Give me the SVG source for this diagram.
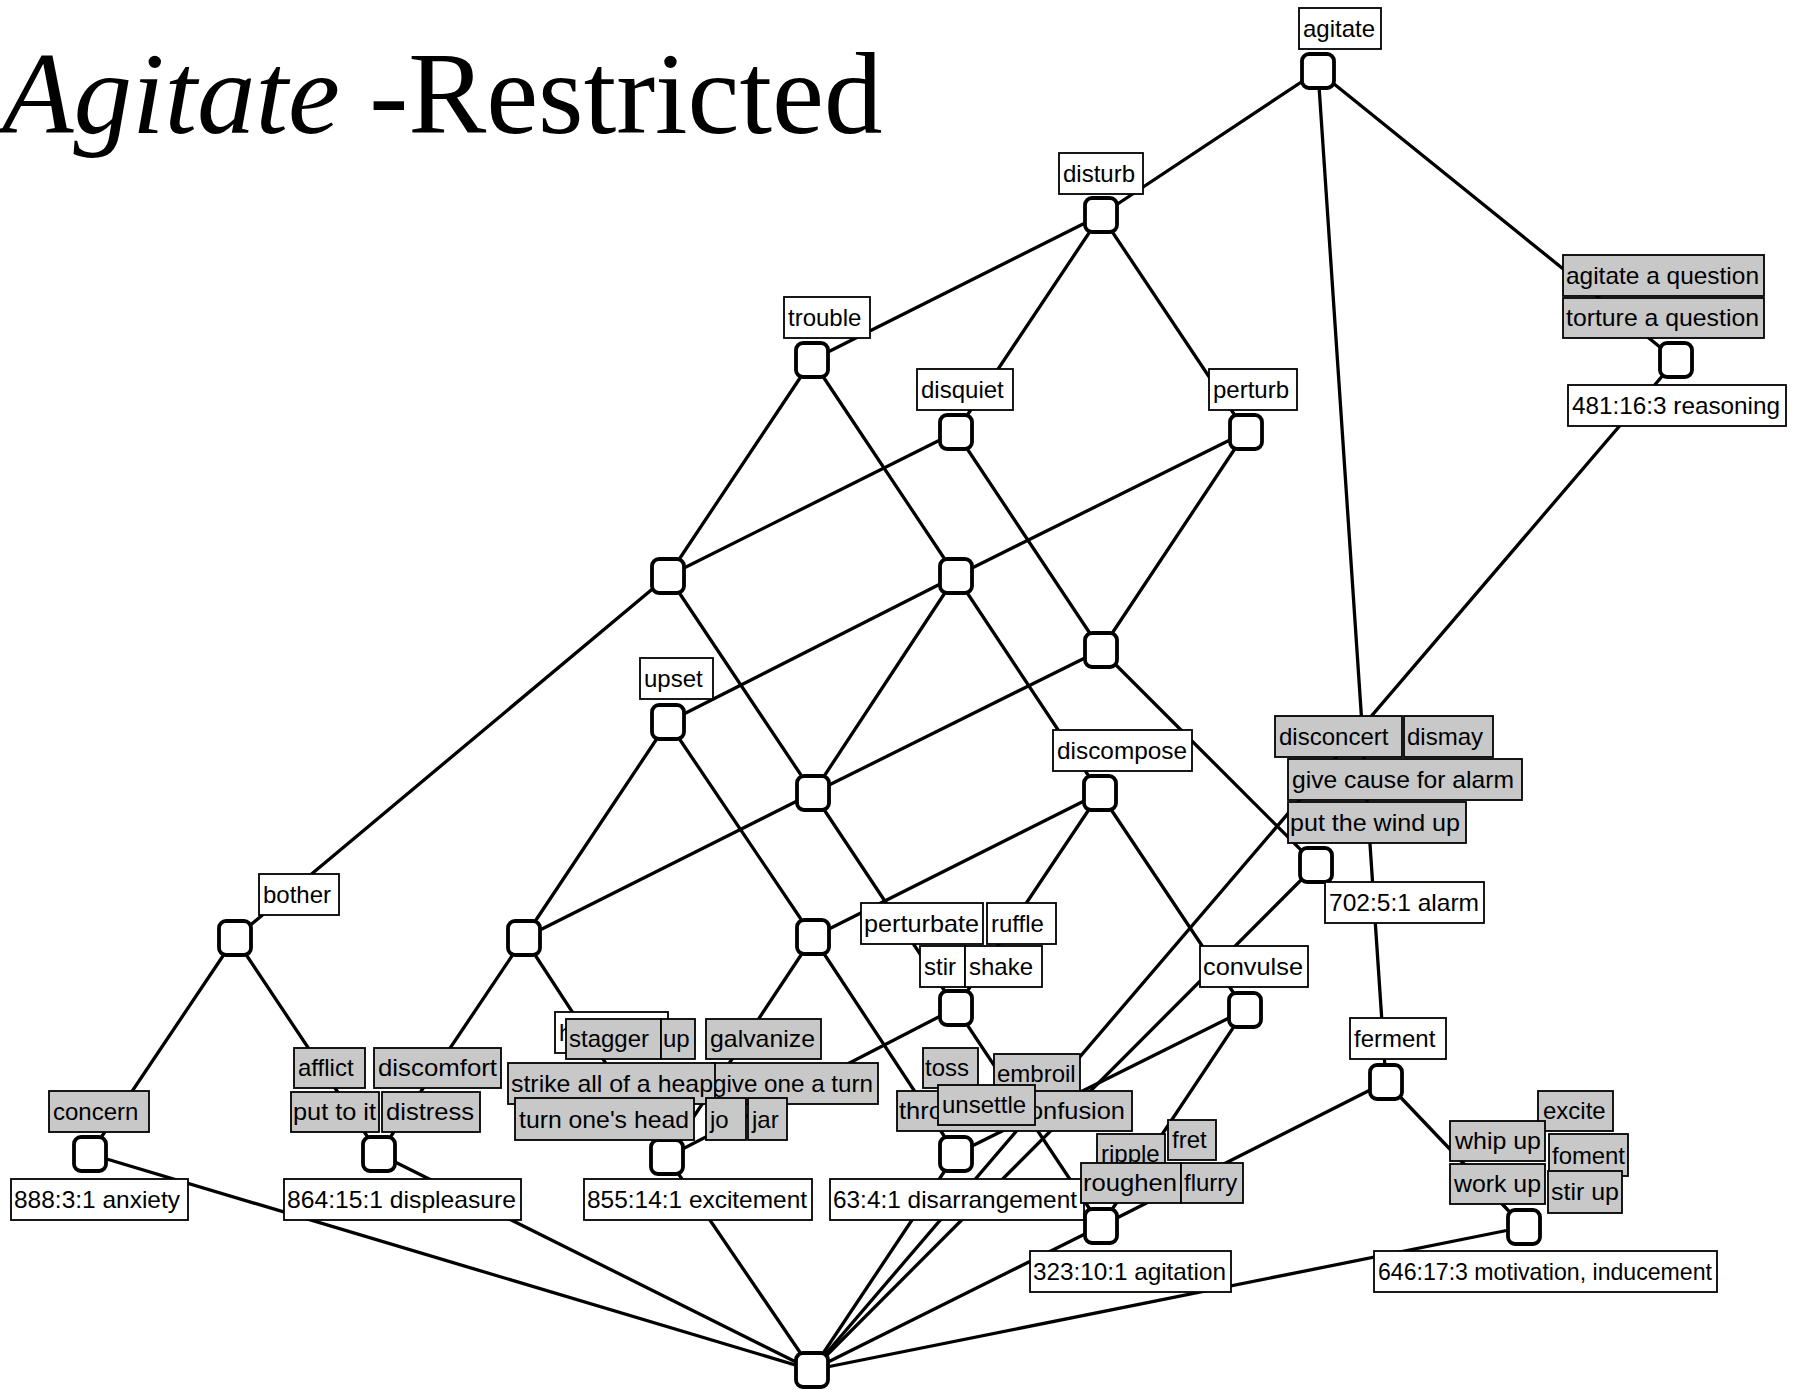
<svg xmlns="http://www.w3.org/2000/svg" width="1802" height="1390" viewBox="0 0 1802 1390">
<style>
.bg{fill:#fff}
.edges line{stroke:#000;stroke-width:3.3;stroke-linecap:round}
.sq{fill:#fff;stroke:#000;stroke-width:3.8}
.lw{fill:#fff;stroke:#000;stroke-width:1.8}
.lg{fill:#c8c8c8;stroke:#000;stroke-width:1.8}
.t{font-family:"Liberation Sans",Arial,sans-serif;font-size:24px;fill:#000}
.title{font-family:"Liberation Serif","Times New Roman",serif;font-size:117px;fill:#000}
</style>
<rect class="bg" x="0" y="0" width="1802" height="1390"/>
<g id="title"><text class="title" x="2" y="133"><tspan font-style="italic">Agitate</tspan> -Restricted</text></g>
<g id="connectors" class="edges">
<line x1="1318" y1="71" x2="1101" y2="215"/>
<line x1="1318" y1="71" x2="1676" y2="360"/>
<line x1="1318" y1="71" x2="1386" y2="1082"/>
<line x1="1101" y1="215" x2="812" y2="360"/>
<line x1="1101" y1="215" x2="956" y2="432"/>
<line x1="1101" y1="215" x2="1246" y2="432"/>
<line x1="812" y1="360" x2="668" y2="576"/>
<line x1="812" y1="360" x2="956" y2="576"/>
<line x1="956" y1="432" x2="668" y2="576"/>
<line x1="956" y1="432" x2="1101" y2="650"/>
<line x1="1246" y1="432" x2="956" y2="576"/>
<line x1="1246" y1="432" x2="1101" y2="650"/>
<line x1="668" y1="576" x2="235" y2="938"/>
<line x1="668" y1="576" x2="813" y2="793"/>
<line x1="956" y1="576" x2="668" y2="722"/>
<line x1="956" y1="576" x2="813" y2="793"/>
<line x1="956" y1="576" x2="1100" y2="793"/>
<line x1="1101" y1="650" x2="813" y2="793"/>
<line x1="1101" y1="650" x2="1316" y2="865"/>
<line x1="668" y1="722" x2="524" y2="938"/>
<line x1="668" y1="722" x2="813" y2="937"/>
<line x1="813" y1="793" x2="524" y2="938"/>
<line x1="813" y1="793" x2="956" y2="1008"/>
<line x1="1100" y1="793" x2="813" y2="937"/>
<line x1="1100" y1="793" x2="956" y2="1008"/>
<line x1="1100" y1="793" x2="1245" y2="1010"/>
<line x1="1316" y1="865" x2="812" y2="1370"/>
<line x1="1676" y1="360" x2="812" y2="1370"/>
<line x1="235" y1="938" x2="90" y2="1154"/>
<line x1="235" y1="938" x2="379" y2="1154"/>
<line x1="524" y1="938" x2="379" y2="1154"/>
<line x1="524" y1="938" x2="667" y2="1157"/>
<line x1="813" y1="937" x2="667" y2="1157"/>
<line x1="813" y1="937" x2="956" y2="1154"/>
<line x1="956" y1="1008" x2="667" y2="1157"/>
<line x1="956" y1="1008" x2="1101" y2="1226"/>
<line x1="1245" y1="1010" x2="956" y2="1154"/>
<line x1="1245" y1="1010" x2="1101" y2="1226"/>
<line x1="1386" y1="1082" x2="1101" y2="1226"/>
<line x1="1386" y1="1082" x2="1524" y2="1227"/>
<line x1="90" y1="1154" x2="812" y2="1370"/>
<line x1="379" y1="1154" x2="812" y2="1370"/>
<line x1="667" y1="1157" x2="812" y2="1370"/>
<line x1="956" y1="1154" x2="812" y2="1370"/>
<line x1="1101" y1="1226" x2="812" y2="1370"/>
<line x1="1524" y1="1227" x2="812" y2="1370"/>
</g>
<g id="node-agitate">
<rect class="sq" x="1302" y="54" width="32" height="34" rx="7"/>
<rect class="lw" x="1299" y="8" width="82" height="41"/><text class="t" x="1303" y="37">agitate</text>
</g>
<g id="node-disturb">
<rect class="sq" x="1085" y="198" width="32" height="34" rx="7"/>
<rect class="lw" x="1059" y="153" width="84" height="41"/><text class="t" x="1063" y="182">disturb</text>
</g>
<g id="node-trouble">
<rect class="sq" x="796" y="343" width="32" height="34" rx="7"/>
<rect class="lw" x="784" y="297" width="86" height="41"/><text class="t" x="788" y="326">trouble</text>
</g>
<g id="node-disquiet">
<rect class="sq" x="940" y="415" width="32" height="34" rx="7"/>
<rect class="lw" x="917" y="369" width="96" height="41"/><text class="t" x="921" y="398">disquiet</text>
</g>
<g id="node-perturb">
<rect class="sq" x="1230" y="415" width="32" height="34" rx="7"/>
<rect class="lw" x="1209" y="369" width="88" height="41"/><text class="t" x="1213" y="398">perturb</text>
</g>
<g id="node-reasoning">
<rect class="sq" x="1660" y="343" width="32" height="34" rx="7"/>
<rect class="lg" x="1563" y="255" width="201" height="41"/><text class="t" x="1566" y="284" textLength="193" lengthAdjust="spacingAndGlyphs">agitate a question</text>
<rect class="lg" x="1563" y="298" width="201" height="40"/><text class="t" x="1566" y="326" textLength="193" lengthAdjust="spacingAndGlyphs">torture a question</text>
<rect class="lw" x="1568" y="385" width="218" height="41"/><text class="t" x="1572" y="414" textLength="208" lengthAdjust="spacingAndGlyphs">481:16:3 reasoning</text>
</g>
<g id="node-a">
<rect class="sq" x="652" y="559" width="32" height="34" rx="7"/>
</g>
<g id="node-b">
<rect class="sq" x="940" y="559" width="32" height="34" rx="7"/>
</g>
<g id="node-c">
<rect class="sq" x="1085" y="633" width="32" height="34" rx="7"/>
</g>
<g id="node-upset">
<rect class="sq" x="652" y="705" width="32" height="34" rx="7"/>
<rect class="lw" x="640" y="658" width="73" height="41"/><text class="t" x="644" y="687">upset</text>
</g>
<g id="node-d">
<rect class="sq" x="797" y="776" width="32" height="34" rx="7"/>
</g>
<g id="node-discompose">
<rect class="sq" x="1084" y="776" width="32" height="34" rx="7"/>
<rect class="lw" x="1053" y="730" width="139" height="41"/><text class="t" x="1057" y="759" textLength="130" lengthAdjust="spacingAndGlyphs">discompose</text>
</g>
<g id="node-alarm">
<rect class="sq" x="1300" y="848" width="32" height="34" rx="7"/>
<rect class="lg" x="1275" y="716" width="127" height="41"/><text class="t" x="1279" y="745">disconcert</text>
<rect class="lg" x="1404" y="716" width="89" height="41"/><text class="t" x="1407" y="745">dismay</text>
<rect class="lg" x="1288" y="759" width="234" height="41"/><text class="t" x="1292" y="788" textLength="222" lengthAdjust="spacingAndGlyphs">give cause for alarm</text>
<rect class="lg" x="1288" y="802" width="178" height="41"/><text class="t" x="1290" y="831" textLength="170" lengthAdjust="spacingAndGlyphs">put the wind up</text>
<rect class="lw" x="1325" y="882" width="159" height="41"/><text class="t" x="1329" y="911" textLength="150" lengthAdjust="spacingAndGlyphs">702:5:1 alarm</text>
</g>
<g id="node-bother">
<rect class="sq" x="219" y="921" width="32" height="34" rx="7"/>
<rect class="lw" x="259" y="874" width="80" height="41"/><text class="t" x="263" y="903">bother</text>
</g>
<g id="node-e">
<rect class="sq" x="508" y="921" width="32" height="34" rx="7"/>
</g>
<g id="node-f">
<rect class="sq" x="797" y="920" width="32" height="34" rx="7"/>
</g>
<g id="node-stir">
<rect class="sq" x="940" y="991" width="32" height="34" rx="7"/>
<rect class="lw" x="861" y="903" width="122" height="41"/><text class="t" x="864" y="932" textLength="115" lengthAdjust="spacingAndGlyphs">perturbate</text>
<rect class="lw" x="987" y="903" width="69" height="41"/><text class="t" x="991" y="932">ruffle</text>
<rect class="lw" x="920" y="946" width="45" height="41"/><text class="t" x="924" y="975">stir</text>
<rect class="lw" x="965" y="946" width="77" height="41"/><text class="t" x="969" y="975">shake</text>
</g>
<g id="node-convulse">
<rect class="sq" x="1229" y="993" width="32" height="34" rx="7"/>
<rect class="lw" x="1200" y="946" width="108" height="41"/><text class="t" x="1203" y="975" textLength="100" lengthAdjust="spacingAndGlyphs">convulse</text>
</g>
<g id="node-ferment">
<rect class="sq" x="1370" y="1065" width="32" height="34" rx="7"/>
<rect class="lw" x="1350" y="1018" width="96" height="41"/><text class="t" x="1354" y="1047">ferment</text>
</g>
<g id="node-anxiety">
<rect class="sq" x="74" y="1137" width="32" height="34" rx="7"/>
<rect class="lg" x="49" y="1091" width="100" height="41"/><text class="t" x="53" y="1120">concern</text>
<rect class="lw" x="11" y="1179" width="177" height="41"/><text class="t" x="14" y="1208" textLength="166" lengthAdjust="spacingAndGlyphs">888:3:1 anxiety</text>
</g>
<g id="node-displeasure">
<rect class="sq" x="363" y="1137" width="32" height="34" rx="7"/>
<rect class="lg" x="294" y="1048" width="71" height="40"/><text class="t" x="298" y="1076">afflict</text>
<rect class="lg" x="374" y="1048" width="127" height="40"/><text class="t" x="378" y="1076" textLength="119" lengthAdjust="spacingAndGlyphs">discomfort</text>
<rect class="lg" x="291" y="1092" width="88" height="40"/><text class="t" x="293" y="1120" textLength="83" lengthAdjust="spacingAndGlyphs">put to it</text>
<rect class="lg" x="382" y="1092" width="98" height="40"/><text class="t" x="386" y="1120" textLength="88" lengthAdjust="spacingAndGlyphs">distress</text>
<rect class="lw" x="284" y="1179" width="237" height="41"/><text class="t" x="287" y="1208" textLength="229" lengthAdjust="spacingAndGlyphs">864:15:1 displeasure</text>
</g>
<g id="node-excitement">
<rect class="sq" x="651" y="1140" width="32" height="34" rx="7"/>
<rect class="lw" x="555" y="1012" width="113" height="41"/><text class="t" x="559" y="1041">h</text>
<rect class="lg" x="566" y="1019" width="95" height="40"/><text class="t" x="569" y="1047">stagger</text>
<rect class="lg" x="661" y="1019" width="34" height="40"/><text class="t" x="663" y="1047">up</text>
<rect class="lg" x="706" y="1019" width="115" height="40"/><text class="t" x="710" y="1047" textLength="105" lengthAdjust="spacingAndGlyphs">galvanize</text>
<rect class="lg" x="712" y="1063" width="166" height="41"/><text class="t" x="713" y="1092" textLength="160" lengthAdjust="spacingAndGlyphs">give one a turn</text>
<rect class="lg" x="508" y="1063" width="207" height="41"/><text class="t" x="511" y="1092" textLength="202" lengthAdjust="spacingAndGlyphs">strike all of a heap</text>
<rect class="lg" x="515" y="1098" width="179" height="42"/><text class="t" x="519" y="1128" textLength="170" lengthAdjust="spacingAndGlyphs">turn one's head</text>
<rect class="lg" x="706" y="1098" width="40" height="42"/><text class="t" x="710" y="1128">jo</text>
<rect class="lg" x="748" y="1098" width="39" height="42"/><text class="t" x="752" y="1128">jar</text>
<rect class="lw" x="584" y="1179" width="228" height="41"/><text class="t" x="587" y="1208" textLength="220" lengthAdjust="spacingAndGlyphs">855:14:1 excitement</text>
</g>
<g id="node-disarrangement">
<rect class="sq" x="940" y="1137" width="32" height="34" rx="7"/>
<rect class="lg" x="923" y="1048" width="55" height="40"/><text class="t" x="925" y="1076">toss</text>
<rect class="lg" x="994" y="1054" width="86" height="40"/><text class="t" x="997" y="1082">embroil</text>
<rect class="lg" x="897" y="1091" width="235" height="40"/><text class="t" x="899" y="1119" textLength="226" lengthAdjust="spacingAndGlyphs">throw into confusion</text>
<rect class="lg" x="938" y="1085" width="97" height="40"/><text class="t" x="942" y="1113">unsettle</text>
<rect class="lw" x="830" y="1179" width="254" height="41"/><text class="t" x="833" y="1208" textLength="244" lengthAdjust="spacingAndGlyphs">63:4:1 disarrangement</text>
</g>
<g id="node-agitation">
<rect class="sq" x="1085" y="1209" width="32" height="34" rx="7"/>
<rect class="lg" x="1168" y="1120" width="48" height="40"/><text class="t" x="1172" y="1148">fret</text>
<rect class="lg" x="1097" y="1134" width="68" height="40"/><text class="t" x="1101" y="1162">ripple</text>
<rect class="lg" x="1081" y="1163" width="100" height="40"/><text class="t" x="1083" y="1191" textLength="94" lengthAdjust="spacingAndGlyphs">roughen</text>
<rect class="lg" x="1181" y="1163" width="62" height="40"/><text class="t" x="1184" y="1191">flurry</text>
<rect class="lw" x="1030" y="1251" width="201" height="41"/><text class="t" x="1033" y="1280" textLength="193" lengthAdjust="spacingAndGlyphs">323:10:1 agitation</text>
</g>
<g id="node-motivation">
<rect class="sq" x="1508" y="1210" width="32" height="34" rx="7"/>
<rect class="lg" x="1538" y="1091" width="75" height="40"/><text class="t" x="1543" y="1119">excite</text>
<rect class="lg" x="1549" y="1134" width="79" height="42"/><text class="t" x="1552" y="1164" textLength="73" lengthAdjust="spacingAndGlyphs">foment</text>
<rect class="lg" x="1548" y="1171" width="74" height="42"/><text class="t" x="1551" y="1200" textLength="68" lengthAdjust="spacingAndGlyphs">stir up</text>
<rect class="lg" x="1450" y="1121" width="95" height="40"/><text class="t" x="1455" y="1149" textLength="86" lengthAdjust="spacingAndGlyphs">whip up</text>
<rect class="lg" x="1450" y="1164" width="95" height="40"/><text class="t" x="1454" y="1192" textLength="87" lengthAdjust="spacingAndGlyphs">work up</text>
<rect class="lw" x="1374" y="1251" width="343" height="41"/><text class="t" x="1378" y="1280" textLength="334" lengthAdjust="spacingAndGlyphs">646:17:3 motivation, inducement</text>
</g>
<g id="node-bottom">
<rect class="sq" x="796" y="1353" width="32" height="34" rx="7"/>
</g>
</svg>
